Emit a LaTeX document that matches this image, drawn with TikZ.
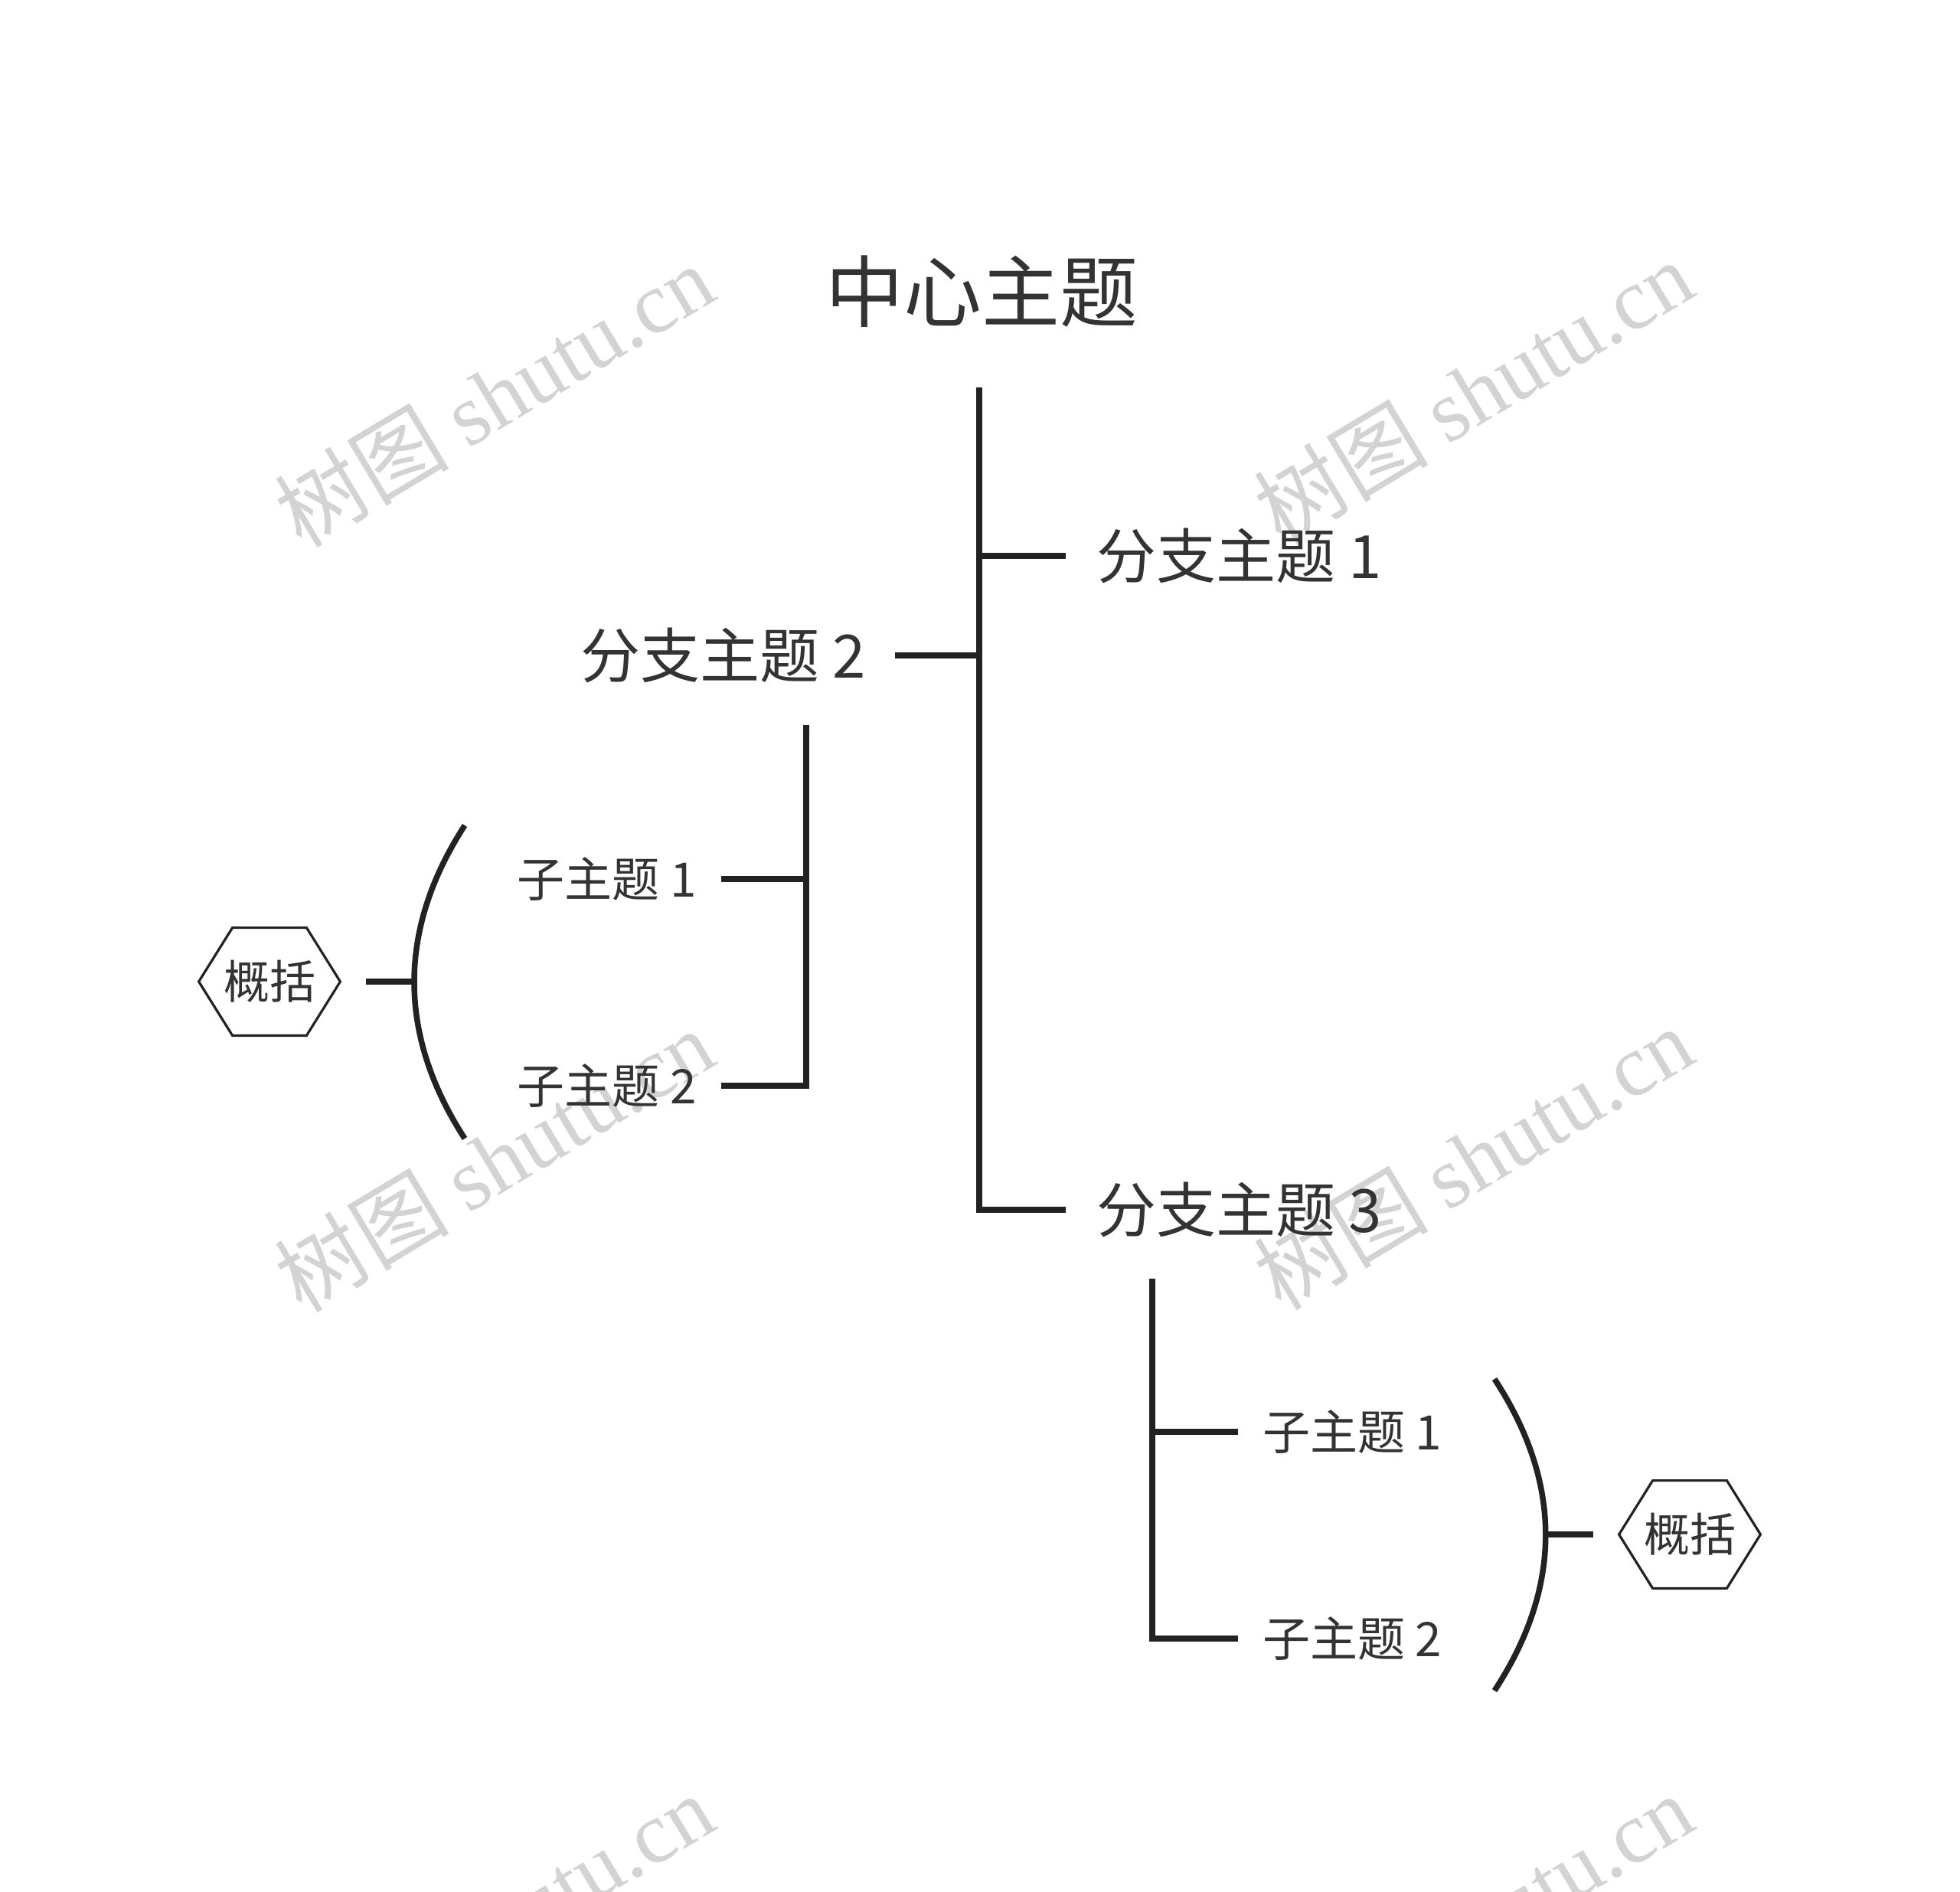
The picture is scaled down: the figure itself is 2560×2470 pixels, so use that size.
\documentclass[tikz,border=0pt]{standalone}
\usepackage{fontspec}
\setmainfont{Noto Sans CJK SC}
\newfontfamily\cjkfont{Noto Sans CJK SC}
\newfontfamily\wmlatin{Liberation Serif}
\definecolor{ink}{HTML}{222222}
\definecolor{txt}{HTML}{333333}
\definecolor{wmcol}{HTML}{D3D3D3}
\newcommand\hexaround[1]{\draw[hexline] (#1.west) -- ([xshift=22pt]#1.north west) -- ([xshift=-22pt]#1.north east) -- (#1.east) -- ([xshift=-22pt]#1.south east) -- ([xshift=22pt]#1.south west) -- cycle;}
\begin{document}
\begin{tikzpicture}[x=0.5pt,y=-0.5pt,
  conn/.style={draw=ink,line width=3.75pt,line join=miter,line cap=butt},
  hexline/.style={draw=ink,line width=1.6pt,line join=miter},
  central/.style={inner sep=0pt,text=txt,font=\cjkfont\fontsize{51pt}{60pt}\selectfont},
  branchR/.style={anchor=west,inner sep=0pt,outer xsep=20pt,text=txt,font=\cjkfont\fontsize{39pt}{46pt}\selectfont},
  branchL/.style={anchor=east,inner sep=0pt,outer xsep=19pt,text=txt,font=\cjkfont\fontsize{39pt}{46pt}\selectfont},
  subR/.style={anchor=west,inner sep=0pt,outer xsep=16pt,text=txt,font=\cjkfont\fontsize{31pt}{37pt}\selectfont},
  subL/.style={anchor=east,inner sep=0pt,outer xsep=16pt,text=txt,font=\cjkfont\fontsize{31pt}{37pt}\selectfont},
  summary/.style={inner sep=0pt,minimum width=92pt,minimum height=70pt,text=txt,font=\cjkfont\fontsize{30pt}{36pt}\selectfont},
  wmark/.style={rotate=31,inner sep=0pt,text=wmcol,font=\cjkfont\fontsize{57pt}{64pt}\selectfont}
]
\path[use as bounding box,fill=white] (0,0) rectangle (2560,2470);
\clip (0,0) rectangle (2560,2470);

% watermarks (behind the diagram)
\node[wmark] (wm1) at (645,516) {树图 {\wmlatin shutu.cn}};
\node[wmark] (wm2) at (1924,511) {树图 {\wmlatin shutu.cn}};
\node[wmark] (wm3) at (645,1515) {树图 {\wmlatin shutu.cn}};
\node[wmark] (wm4) at (1924,1512) {树图 {\wmlatin shutu.cn}};
\node[wmark] (wm5) at (645,2514) {树图 {\wmlatin shutu.cn}};
\node[wmark] (wm6) at (1924,2514) {树图 {\wmlatin shutu.cn}};

% central topic and trunk
\node[central] (c) at (1282,381) {中心主题};
\coordinate (trunk) at (1279,506);
\coordinate (j1) at (1279,726);
\coordinate (j2) at (1279,856);
\coordinate (j3) at (1279,1580);

\node[branchR] (b1) at (1392,726) {分支主题 1};
\node[branchL] (b2) at (1169,856) {分支主题 2};
\node[branchR] (b3) at (1392,1580) {分支主题 3};

\draw[conn] (trunk) -- (j3) -- (b3.west);
\draw[conn] (j1) -- (b1.west);
\draw[conn] (j2) -- (b2.east);

% children of branch 2
\coordinate (s2top) at (1053,947);
\coordinate (s2a) at (1053,1148);
\coordinate (s2b) at (1053,1418);
\node[subL] (l1) at (942,1148) {子主题 1};
\node[subL] (l2) at (942,1418) {子主题 2};
\draw[conn] (s2top) -- (s2b) -- (l2.east);
\draw[conn] (s2a) -- (l1.east);

% left summary
\coordinate (a1top) at (607,1078);
\coordinate (a1mid) at (541,1282);
\coordinate (a1bot) at (607,1487);
\draw[conn] (a1top) .. controls (519,1214) and (519,1351) .. (a1bot);
\node[summary] (h1) at (352,1282) {概括};
\hexaround{h1}
\draw[conn,shorten >=17pt] (a1mid) -- (h1.east);

% children of branch 3
\coordinate (s3top) at (1505,1670);
\coordinate (s3a) at (1505,1870);
\coordinate (s3b) at (1505,2140);
\node[subR] (r1) at (1617,1870) {子主题 1};
\node[subR] (r2) at (1617,2140) {子主题 2};
\draw[conn] (s3top) -- (s3b) -- (r2.west);
\draw[conn] (s3a) -- (r1.west);

% right summary
\coordinate (a2top) at (1952,1801);
\coordinate (a2mid) at (2019,2004);
\coordinate (a2bot) at (1952,2208);
\draw[conn] (a2top) .. controls (2041,1937) and (2041,2072) .. (a2bot);
\node[summary] (h2) at (2207,2004) {概括};
\hexaround{h2}
\draw[conn,shorten >=17pt] (a2mid) -- (h2.west);
\end{tikzpicture}
\end{document}
